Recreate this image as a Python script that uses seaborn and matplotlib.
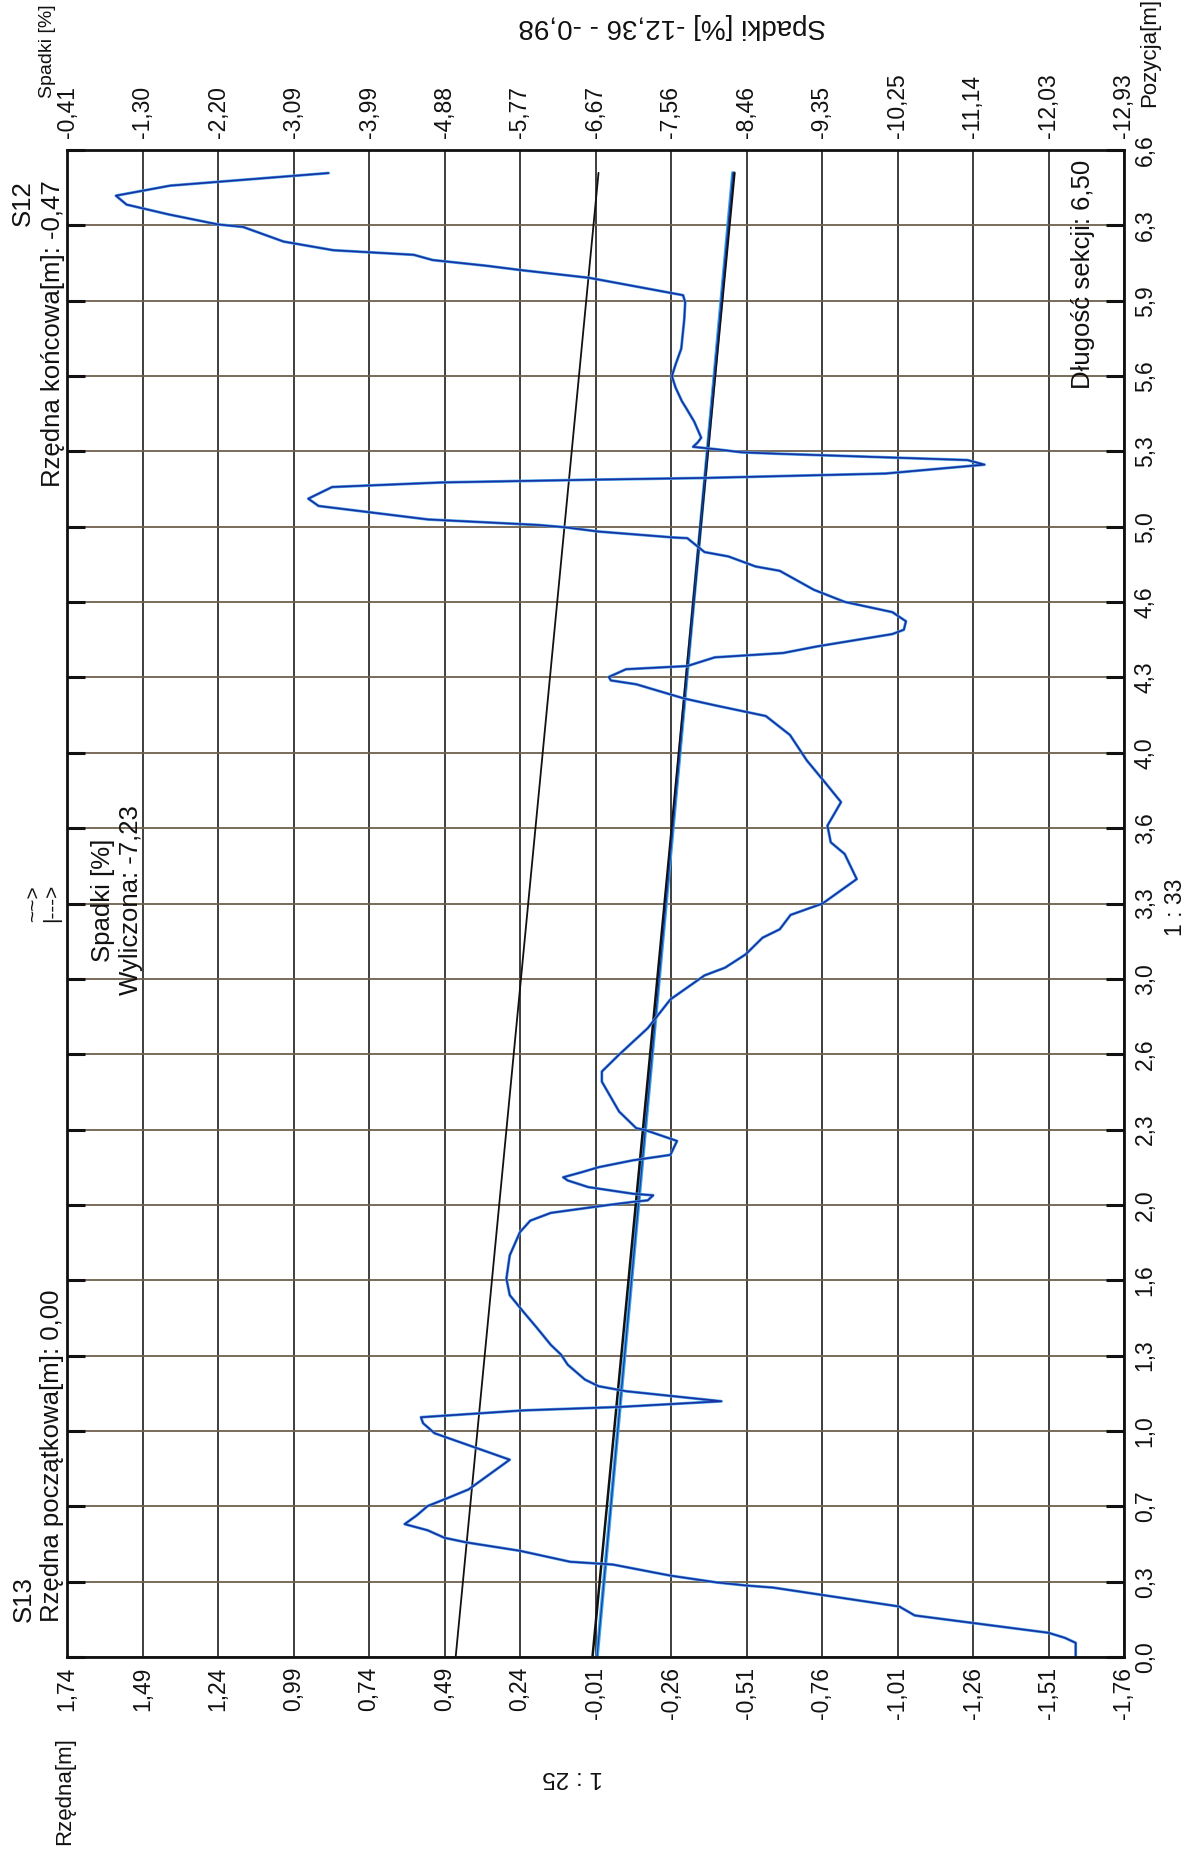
import matplotlib
matplotlib.use("Agg")
import matplotlib.pyplot as plt
import seaborn as sns
import pandas as pd

# ---------------- data ----------------
rzedna_ticks = [1.74, 1.49, 1.24, 0.99, 0.74, 0.49, 0.24, -0.01, -0.26, -0.51,
                -0.76, -1.01, -1.26, -1.51, -1.76]
rzedna_labels = ["1,74", "1,49", "1,24", "0,99", "0,74", "0,49", "0,24", "-0,01",
                 "-0,26", "-0,51", "-0,76", "-1,01", "-1,26", "-1,51", "-1,76"]

spadki_ticks = [-0.41, -1.30, -2.20, -3.09, -3.99, -4.88, -5.77, -6.67, -7.56,
                -8.46, -9.35, -10.25, -11.14, -12.03, -12.93]
spadki_labels = ["-0,41", "-1,30", "-2,20", "-3,09", "-3,99", "-4,88", "-5,77",
                 "-6,67", "-7,56", "-8,46", "-9,35", "-10,25", "-11,14", "-12,03",
                 "-12,93"]

pozycja_ticks = [0.0, 0.33, 0.66, 0.99, 1.32, 1.65, 1.98, 2.31, 2.64, 2.97, 3.30,
                 3.63, 3.96, 4.29, 4.62, 4.95, 5.28, 5.61, 5.94, 6.27, 6.6]
pozycja_labels = ["0,0", "0,3", "0,7", "1,0", "1,3", "1,6", "2,0", "2,3", "2,6",
                  "3,0", "3,3", "3,6", "4,0", "4,3", "4,6", "5,0", "5,3", "5,6",
                  "5,9", "6,3", "6,6"]

# measured profile (Rzędna [m] vs Pozycja [m])
profile_rzedna = [
    -1.60, -1.60, -1.564, -1.51, -1.26, -1.067, -1.016, -0.76, -0.598, -0.51,
    -0.409, -0.26, -0.22, -0.067, 0.074, 0.24, 0.418, 0.49, 0.546, 0.622,
    0.582, 0.546, 0.478, 0.410, 0.274, 0.523, 0.561, 0.568, 0.229, -0.088,
    -0.427, -0.111, -0.020, 0.025, 0.082, 0.104, 0.138, 0.183, 0.229, 0.274,
    0.285, 0.274, 0.240, 0.206, 0.138, -0.043, -0.133, -0.183, -0.201, -0.133,
    0.014, 0.082, 0.097, 0.036, -0.020, -0.133, -0.258, -0.280, -0.174, -0.145,
    -0.088, -0.031, -0.031, -0.088, -0.183, -0.258, -0.371, -0.439, -0.507, -0.563,
    -0.620, -0.656, -0.762, -0.875, -0.835, -0.789, -0.778, -0.823, -0.767, -0.710,
    -0.654, -0.574, -0.405, -0.303, -0.145, -0.061, -0.054, -0.111, -0.314, -0.405,
    -0.631, -0.744, -0.993, -1.031, -1.038, -0.993, -0.835, -0.733, -0.620, -0.540,
    -0.450, -0.371, -0.314, -0.269, -0.020, 0.093, 0.183, 0.545, 0.749, 0.907,
    0.941, 0.862, 0.500, 0.002, -0.382, -0.970, -1.298, -1.242, -0.608, -0.495,
    -0.405, -0.333, -0.349, -0.360, -0.337, -0.310, -0.296, -0.275, -0.263, -0.275,
    -0.294, -0.304, -0.307, -0.300, 0.010, 0.237, 0.351, 0.529, 0.592, 0.858,
    1.023, 1.157, 1.240, 1.404, 1.543, 1.578, 1.398, 0.874]
profile_pozycja = [
    0.000, 0.062, 0.084, 0.106, 0.149, 0.182, 0.221, 0.272, 0.304, 0.313,
    0.327, 0.356, 0.366, 0.405, 0.417, 0.465, 0.502, 0.522, 0.555, 0.582,
    0.620, 0.661, 0.697, 0.734, 0.864, 0.980, 1.024, 1.050, 1.080, 1.095,
    1.120, 1.164, 1.186, 1.215, 1.280, 1.324, 1.367, 1.440, 1.512, 1.585,
    1.657, 1.759, 1.861, 1.911, 1.945, 1.978, 1.993, 2.000, 2.022, 2.029,
    2.058, 2.087, 2.101, 2.123, 2.145, 2.175, 2.199, 2.260, 2.308, 2.316,
    2.389, 2.520, 2.564, 2.638, 2.754, 2.880, 2.985, 3.019, 3.077, 3.150,
    3.187, 3.250, 3.300, 3.407, 3.517, 3.568, 3.641, 3.744, 3.835, 3.926,
    4.038, 4.121, 4.168, 4.198, 4.260, 4.277, 4.292, 4.326, 4.340, 4.378,
    4.397, 4.426, 4.480, 4.499, 4.536, 4.576, 4.621, 4.674, 4.757, 4.776,
    4.820, 4.839, 4.900, 4.903, 4.929, 4.948, 4.958, 4.982, 5.015, 5.041,
    5.073, 5.124, 5.144, 5.156, 5.164, 5.183, 5.222, 5.242, 5.270, 5.276,
    5.290, 5.300, 5.320, 5.340, 5.410, 5.470, 5.500, 5.560, 5.610, 5.660,
    5.730, 5.860, 5.933, 5.964, 6.040, 6.074, 6.093, 6.118, 6.141, 6.161,
    6.199, 6.263, 6.274, 6.318, 6.361, 6.400, 6.444, 6.499]

# straight reference lines (start / end points)
ref1_rzedna = [0.453, -0.020]
ref1_pozycja = [0.0, 6.5]
design_rzedna = [0.00, -0.47]
design_pozycja = [0.0, 6.5]
fit_rzedna = [-0.015, -0.465]
fit_pozycja = [0.0, 6.5]

# ---------------- figure ----------------
sns.set_theme(style="white")
plt.rcParams["font.family"] = ["Liberation Sans", "DejaVu Sans"]

W, H = 1190, 1857
fig = plt.figure(figsize=(W / 100, H / 100), dpi=100)
fig.patch.set_facecolor("white")
ax = fig.add_axes([67 / W, 1 - 1657 / H, (1124 - 67) / W, (1657 - 150) / H])
ax.set_facecolor("white")

ax.set_xlim(1.74, -1.76)
ax.set_ylim(0, 6.6)

TICK_FS = 16.5
ax.set_xticks(rzedna_ticks, labels=rzedna_labels, rotation=90, fontsize=TICK_FS)
ax.set_yticks(pozycja_ticks, labels=pozycja_labels, rotation=90, fontsize=TICK_FS)
ax.grid(axis="x", color="#1e1e1e", lw=1.2)
ax.grid(axis="y", color="#6f604c", lw=1.3)
ax.set_axisbelow(True)

ax.tick_params(axis="x", length=0, pad=7, colors="#111111")
ax.tick_params(axis="y", direction="in", length=13, width=2.2, left=True,
               right=True, labelleft=False, labelright=True, pad=7,
               colors="#111111")
for lab in ax.get_yticklabels():
    lab.set_verticalalignment("center")
    lab.set_horizontalalignment("left")
for lab in ax.get_xticklabels():
    lab.set_verticalalignment("top")
    lab.set_horizontalalignment("center")

for s in ax.spines.values():
    s.set_color("#111111")
    s.set_linewidth(2)
    s.set_visible(True)

# lines
sns.lineplot(x=ref1_rzedna, y=ref1_pozycja, orient="y", sort=False,
             estimator=None, color="#111111", lw=1.3, ax=ax)
sns.lineplot(x=fit_rzedna, y=fit_pozycja, orient="y", sort=False,
             estimator=None, color="#35a6e6", lw=2.6, ax=ax)
sns.lineplot(x=design_rzedna, y=design_pozycja, orient="y", sort=False,
             estimator=None, color="#111111", lw=1.8, ax=ax)
sns.lineplot(x=fit_rzedna, y=fit_pozycja, orient="y", sort=False,
             estimator=None, color="#1d3aa8", lw=0.9, ax=ax)
sns.lineplot(x=profile_rzedna, y=profile_pozycja, orient="y", sort=False,
             estimator=None, color="#4aa8e8", lw=2.1, ax=ax)
sns.lineplot(x=profile_rzedna, y=profile_pozycja, orient="y", sort=False,
             estimator=None, color="#1a30a2", lw=1.2, ax=ax)
ax.set_xlabel("")
ax.set_ylabel("")

# top axis: Spadki
ax2 = ax.twiny()
ax2.set_xlim(spadki_ticks[0], spadki_ticks[-1])
ax2.set_xticks(spadki_ticks, labels=spadki_labels, rotation=90, fontsize=TICK_FS)
ax2.tick_params(axis="x", length=0, pad=9, colors="#111111")
for lab in ax2.get_xticklabels():
    lab.set_verticalalignment("bottom")
    lab.set_horizontalalignment("center")
for s in ax2.spines.values():
    s.set_visible(False)
ax2.grid(False)


def ftext(px, py, s, **kw):
    kw.setdefault("color", "#111111")
    fig.text(px / W, 1 - py / H, s, **kw)


# annotations
ftext(23, 180, "S12", rotation=90, ha="center", va="top", fontsize=18.5)
ftext(53, 180, "Rzędna końcowa[m]: -0,47", rotation=90, ha="center", va="top", fontsize=18.5)
ftext(24, 1622, "S13", rotation=90, ha="center", va="bottom", fontsize=18.5)
ftext(52, 1622, "Rzędna początkowa[m]: 0,00", rotation=90, ha="center", va="bottom", fontsize=18.5)
ftext(34, 922, "~~>", rotation=90, ha="center", va="bottom", fontsize=15)
ftext(52, 922, "|--->", rotation=90, ha="center", va="bottom", fontsize=15)
ftext(103, 900, "Spadki [%]", rotation=90, ha="center", va="center", fontsize=18.5)
ftext(131, 900, "Wyliczona: -7,23", rotation=90, ha="center", va="center", fontsize=18.5)
ftext(1083, 160, "Długość sekcji: 6,50", rotation=90, ha="center", va="top", fontsize=18.5)
ftext(1176, 907, "1 : 33", rotation=90, ha="center", va="center", fontsize=16.5)
ftext(573, 1777, "1 : 25", rotation=180, ha="center", va="center", fontsize=17.5)
ftext(672, 26, "Spadki [%] -12,36 - -0,98", rotation=180, ha="center", va="center", fontsize=20)
ftext(65, 1845, "Rzędna[m]", rotation=90, ha="center", va="bottom", fontsize=16)
ftext(1150, 107, "Pozycja[m]", rotation=90, ha="center", va="bottom", fontsize=16)
ftext(47, 98, "Spadki [%]", rotation=90, ha="center", va="bottom", fontsize=14)

fig.savefig("out.png", dpi=100, facecolor="white")
